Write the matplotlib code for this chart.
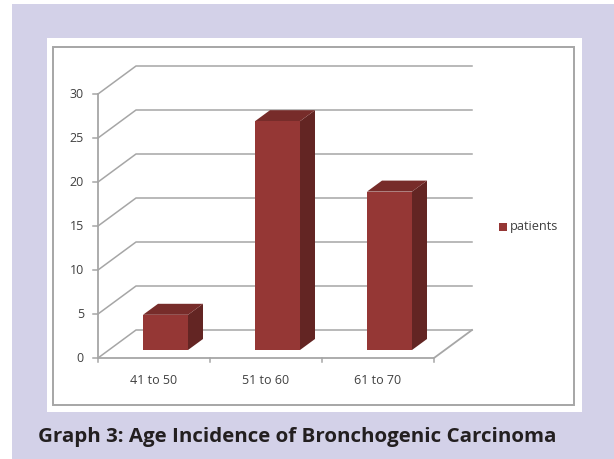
import matplotlib
matplotlib.use('Agg')
import matplotlib.pyplot as plt
from matplotlib.patches import Polygon, Rectangle

# data
categories = ['41 to 50', '51 to 60', '61 to 70']
patients = [4, 26, 18]
yticks = [0, 5, 10, 15, 20, 25, 30]
series_name = 'patients'
caption = 'Graph 3: Age Incidence of Bronchogenic Carcinoma'

# colours
page = '#D3D1E8'
grid = '#A6A6A6'
front = '#953735'
top = '#772C2A'
side = '#632523'
text_col = '#404040'

W, H = 614, 459
fig = plt.figure(figsize=(W / 100, H / 100), dpi=100, facecolor='white')
plt.rcParams['font.family'] = ['Open Sans', 'DejaVu Sans']

# whole-figure overlay in pixels for the panel
bg = fig.add_axes([0, 0, 1, 1])
bg.set_xlim(0, W)
bg.set_ylim(H, 0)
bg.axis('off')
bg.add_patch(Rectangle((12, 4), W - 12, H - 4, fc=page, ec='none'))
bg.add_patch(Rectangle((46.5, 38), 535, 374, fc='white', ec='none'))
bg.add_patch(Rectangle((53, 46.5), 521, 358.5, fc='white', ec=grid, lw=1.4))
bg.text(38, 437, caption, fontsize=14.75, fontweight='bold', color='#231F20',
        ha='left', va='center')

# chart axes: front plane of the fake 3d box, x in categories, y in patients
x0, x1, y0, y1 = 98, 434, 358, 94
ax = fig.add_axes([x0 / W, 1 - y0 / H, (x1 - x0) / W, (y0 - y1) / H])
ax.set_xlim(0, len(categories))
ax.set_ylim(0, 30)
ax.axis('off')
ax.patch.set_alpha(0)

# oblique offsets, in data units
dx = 38 / 112
dy = 28 / 8.8
n = len(categories)

for v in yticks:
    ax.plot([0, dx, n + dx], [v, v + dy, v + dy], color=grid, lw=1.1,
            clip_on=False, zorder=1)
    ax.plot([-5 / 112, 0], [v, v], color=grid, lw=1.1, clip_on=False, zorder=1)
    ax.text(-14 / 112, v, str(v), ha='right', va='center', fontsize=9,
            color=text_col, clip_on=False)

# floor and axes
ax.plot([0, 0], [0, 30], color=grid, lw=1.3, clip_on=False, zorder=1)
ax.plot([0, n, n + dx, n + dx], [0, 0, dy, dy], color=grid, lw=1.3, clip_on=False, zorder=1)

for i, name in enumerate(categories):
    ax.plot([i, i], [0, -4 / 8.8], color=grid, lw=1.1, clip_on=False, zorder=1)
    ax.text(i + 0.5, -23 / 8.8, name, ha='center', va='center', fontsize=9,
            color=text_col, clip_on=False)
ax.plot([n, n], [0, -4 / 8.8], color=grid, lw=1.1, clip_on=False, zorder=1)

# bars
bar_w = 45 / 112
bar_gap = 45 / 112  # from category start to bar
bar_dx = 15 / 112
bar_dy = 11 / 8.8
base = 8 / 8.8
for i, v in enumerate(patients):
    l = i + bar_gap
    r = l + bar_w
    b = base
    t = base + v
    ax.add_patch(Polygon([(r, b), (r + bar_dx, b + bar_dy), (r + bar_dx, t + bar_dy), (r, t)],
                         fc=side, ec='none', clip_on=False, zorder=3))
    ax.add_patch(Polygon([(l, t), (l + bar_dx, t + bar_dy), (r + bar_dx, t + bar_dy), (r, t)],
                         fc=top, ec='none', clip_on=False, zorder=3))
    ax.add_patch(Rectangle((l, b), bar_w, v, fc=front, ec='none', clip_on=False, zorder=3))

# legend
bg.add_patch(Rectangle((499, 223), 8, 7.5, fc=front, ec='none'))
bg.text(510, 226.5, series_name, fontsize=9.2, color=text_col, ha='left', va='center')

fig.savefig('out.png', dpi=100, facecolor='white')
